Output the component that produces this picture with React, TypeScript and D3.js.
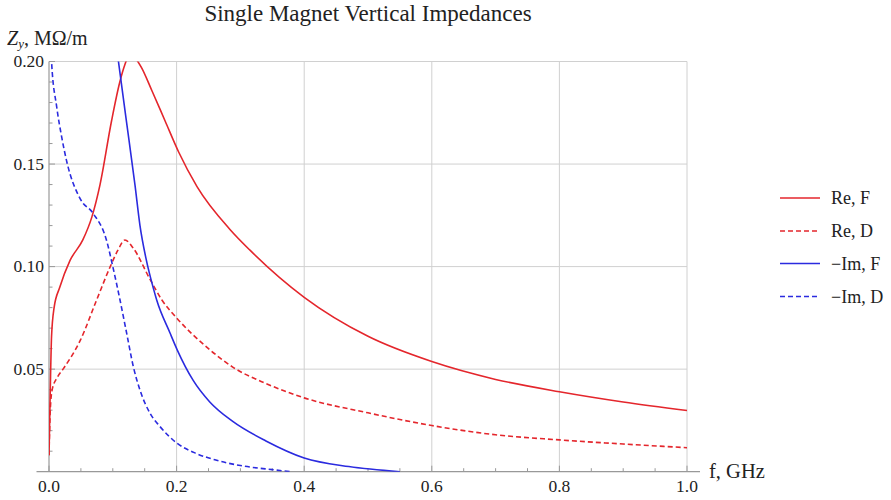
import React from "react";
import * as d3 from "d3";

const title = "Single Magnet Vertical Impedances";
const xTicks = [0, 0.2, 0.4, 0.6, 0.8, 1.0];
const yTicks = [0.05, 0.1, 0.15, 0.2];

const reF_f = [0, 0.002, 0.004, 0.008, 0.017, 0.033, 0.053, 0.067, 0.08, 0.098, 0.111, 0.119, 0.128, 0.137, 0.145, 0.161, 0.182, 0.203, 0.232, 0.284, 0.315, 0.4, 0.5, 0.6, 0.7, 0.8, 0.9, 1.0];
const reF_v = [0.008, 0.04, 0.066, 0.08, 0.09, 0.103, 0.113, 0.124, 0.14, 0.171, 0.19, 0.1985, 0.2045, 0.201, 0.197, 0.186, 0.171, 0.156, 0.139, 0.118, 0.108, 0.085, 0.066, 0.0537, 0.045, 0.039, 0.034, 0.0298];

const reD_f = [0, 0.002, 0.005, 0.013, 0.022, 0.049, 0.075, 0.096, 0.108, 0.119, 0.132, 0.158, 0.177, 0.2, 0.25, 0.288, 0.34, 0.4, 0.5, 0.6, 0.7, 0.8, 0.9, 1.0];
const reD_v = [0.008, 0.03, 0.04, 0.046, 0.05, 0.064, 0.084, 0.1, 0.108, 0.113, 0.109, 0.094, 0.0837, 0.075, 0.06, 0.051, 0.043, 0.036, 0.0287, 0.0225, 0.018, 0.0155, 0.0135, 0.0117];

const imF_f = [0.1, 0.1086, 0.12, 0.1348, 0.1426, 0.152, 0.1635, 0.1688, 0.1897, 0.2011, 0.226, 0.252, 0.288, 0.34, 0.4, 0.47, 0.55];
const imF_v = [0.221, 0.2006, 0.174, 0.1397, 0.12, 0.104, 0.0895, 0.0837, 0.0676, 0.0593, 0.0445, 0.034, 0.0245, 0.015, 0.0067, 0.0025, 0.0];

const imD_f = [0.002, 0.004, 0.012, 0.02, 0.028, 0.049, 0.069, 0.09, 0.1, 0.1113, 0.1218, 0.1322, 0.1426, 0.1583, 0.174, 0.2011, 0.2315, 0.26, 0.3, 0.35, 0.38];
const imD_v = [0.23, 0.2, 0.178, 0.163, 0.151, 0.133, 0.126, 0.113, 0.1, 0.0837, 0.0674, 0.0512, 0.0398, 0.0285, 0.022, 0.0138, 0.0088, 0.0058, 0.003, 0.001, 0.0];

const RED = "#e4262c";
const BLUE = "#2b2bdf";

const series = [
  { name: "Re, F", f: reF_f, v: reF_v, color: RED, dash: null },
  { name: "Re, D", f: reD_f, v: reD_v, color: RED, dash: "5,3" },
  { name: "\u2212Im, F", f: imF_f, v: imF_v, color: BLUE, dash: null },
  { name: "\u2212Im, D", f: imD_f, v: imD_v, color: BLUE, dash: "5,3" },
];

export default function App() {
  const W = 891, H = 500;
  const x0 = 49, x1 = 687, y0 = 471.7, yTop = 61.5;
  const x = d3.scaleLinear().domain([0, 1]).range([x0, x1]);
  const y = d3.scaleLinear().domain([0, 0.2]).range([y0, yTop]);
  const line = d3
    .line<[number, number]>()
    .x((d) => x(d[0]))
    .y((d) => y(d[1]))
    .curve(d3.curveMonotoneX);
  const font = "'Liberation Serif', 'Times New Roman', Times, serif";
  const xMinor = d3.range(0, 1.0001, 0.05);
  const yMinor = d3.range(0.01, 0.2001, 0.01);
  const legendY = [198, 231, 263.5, 296.5];

  return (
    <svg width={W} height={H} style={{ position: "absolute", left: 0, top: 0, background: "#fff", fontFamily: font }}>
      <defs>
        <clipPath id="plotclip">
          <rect x={x0} y={yTop} width={x1 - x0 + 1} height={y0 - yTop} />
        </clipPath>
      </defs>
      <rect x={0} y={0} width={W} height={H} fill="#fff" />
      <text x={368} y={21} textAnchor="middle" fontSize={23} fill="#222">{title}</text>

      {/* grid */}
      {yTicks.map((t) => (
        <line key={"gy" + t} x1={x0} x2={x1} y1={y(t)} y2={y(t)} stroke="#d0d0d0" strokeWidth={1} />
      ))}
      {xTicks.filter((t) => t > 0).map((t) => (
        <line key={"gx" + t} x1={x(t)} x2={x(t)} y1={yTop} y2={y0} stroke="#d0d0d0" strokeWidth={1} />
      ))}

      {/* axes */}
      <line x1={36.5} x2={700} y1={y0} y2={y0} stroke="#999" strokeWidth={1.2} />
      <line x1={x0} x2={x0} y1={yTop} y2={y0} stroke="#999" strokeWidth={1.2} />
      {xMinor.map((t, i) => (
        <line key={"xm" + i} x1={x(t)} x2={x(t)} y1={y0} y2={y0 - (i % 4 === 0 ? 6 : 3.5)} stroke="#999" strokeWidth={1} />
      ))}
      {yMinor.map((t, i) => (
        <line key={"ym" + i} x1={x0} x2={x0 + ((i + 1) % 5 === 0 ? 6 : 3.5)} y1={y(t)} y2={y(t)} stroke="#999" strokeWidth={1} />
      ))}

      {/* tick labels */}
      {xTicks.map((t) => (
        <text key={"xl" + t} x={x(t)} y={492} textAnchor="middle" fontSize={17.5} fill="#222">{t.toFixed(1)}</text>
      ))}
      {yTicks.map((t) => (
        <text key={"yl" + t} x={44} y={y(t) + 5.5} textAnchor="end" fontSize={17.5} fill="#222">{t.toFixed(2)}</text>
      ))}

      {/* axis labels */}
      <text x={7} y={45} fontSize={20} fill="#222">
        <tspan fontStyle="italic">Z</tspan>
        <tspan fontStyle="italic" fontSize={13} dy={3}>y</tspan>
        <tspan dy={-3}>, M&#937;/m</tspan>
      </text>
      <text x={709} y={478} fontSize={20.5} fill="#222">f, GHz</text>

      {/* curves */}
      <g clipPath="url(#plotclip)">
        {series.map((s) => (
          <path
            key={s.name}
            d={line(s.f.map((f, i) => [f, s.v[i]] as [number, number])) || ""}
            fill="none"
            stroke={s.color}
            strokeWidth={1.6}
            strokeDasharray={s.dash || undefined}
          />
        ))}
      </g>

      {/* legend */}
      {series.map((s, i) => (
        <g key={"lg" + i}>
          <line x1={780} x2={820} y1={legendY[i]} y2={legendY[i]} stroke={s.color} strokeWidth={1.6} strokeDasharray={s.dash || undefined} />
          <text x={831} y={legendY[i] + 6} fontSize={18} fill="#222">{s.name}</text>
        </g>
      ))}
    </svg>
  );
}
